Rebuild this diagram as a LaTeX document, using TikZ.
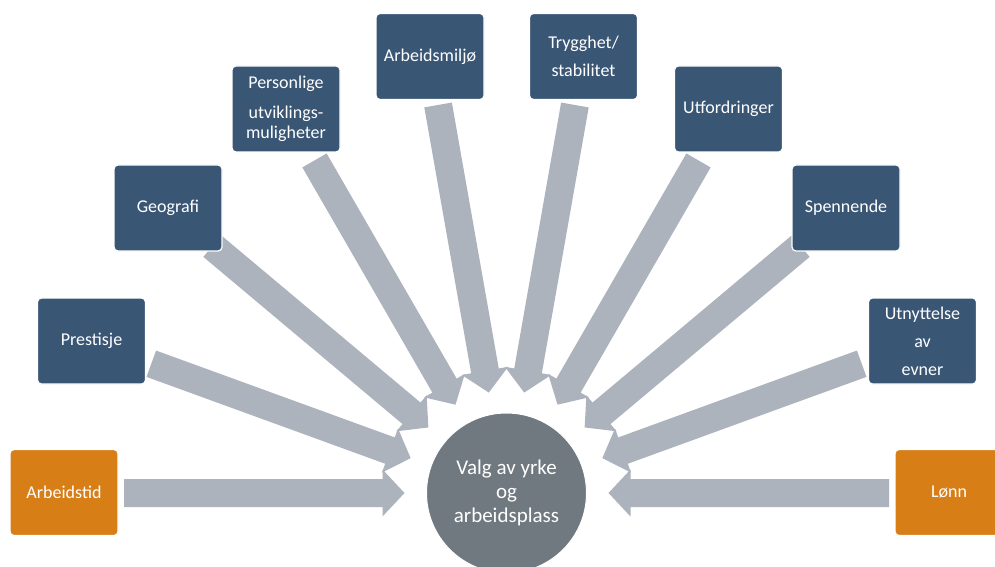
\documentclass[tikz,border=0pt]{standalone}
\usepackage{fontspec}
\setmainfont{Carlito}
\usetikzlibrary{calc}
\definecolor{boxblue}{HTML}{3A5675}
\definecolor{boxorange}{HTML}{D87E17}
\definecolor{arrowgrey}{HTML}{ADB3BD}
\definecolor{hubgrey}{HTML}{707880}
\tikzset{
  factor/.style={rounded corners=4pt, fill=boxblue, draw=white, line width=1.2pt,
    minimum width=108pt, minimum height=86pt, inner sep=2pt, text=white,
    align=center, font=\fontsize{18}{28}\selectfont},
  keyfactor/.style={factor, fill=boxorange},
  hub/.style={circle, fill=hubgrey, draw=white, line width=1pt, minimum size=160pt,
    inner sep=0pt, text=white, align=center, font=\fontsize{21}{24}\selectfont},
  blockarrow/.style={fill=arrowgrey}
}
% #1 = name of the tail coordinate; the arrow points from it to the hub (c)
\newcommand\convarrow[1]{%
  \coordinate (#1h) at ($(c)!124pt!(#1)$);
  \coordinate (#1p) at ($(c)!102pt!(#1)$);
  \fill[blockarrow]
    ($(#1)!14pt!90:(c)$) -- ($(#1h)!14pt!-90:(#1)$) -- ($(#1h)!23.5pt!-90:(#1)$) --
    (#1p) -- ($(#1h)!23.5pt!90:(#1)$) -- ($(#1h)!14pt!90:(#1)$) --
    ($(#1)!14pt!-90:(c)$) -- cycle;
}
\begin{document}
\begin{tikzpicture}[x=1pt,y=1pt]
\useasboundingbox (0,0) rectangle (995,566);
\clip (0,0) rectangle (995,566);
\fill[white] (0,0) rectangle (995,566);
\coordinate (c) at (506.5,73);
% tails of the arrows
\coordinate (t1)  at ($(c)+(180:382.5)$);
\coordinate (t2)  at ($(c)+(160:378)$);
\coordinate (t3)  at ($(c)+(140:384)$);
\coordinate (t4)  at ($(c)+(120:384)$);
\coordinate (t5)  at ($(c)+(100:394)$);
\coordinate (t6)  at ($(c)+(80:394)$);
\coordinate (t7)  at ($(c)+(60:384)$);
\coordinate (t8)  at ($(c)+(40:384)$);
\coordinate (t9)  at ($(c)+(20:378)$);
\coordinate (t10) at ($(c)+(0:382.5)$);
\convarrow{t1}
\convarrow{t2}
\convarrow{t3}
\convarrow{t4}
\convarrow{t5}
\convarrow{t6}
\convarrow{t7}
\convarrow{t8}
\convarrow{t9}
\convarrow{t10}
% hub
\node[hub] (hub) at (c) {Valg av yrke\\og\\arbeidsplass};
% factors
\node[keyfactor] (arbeidstid) at (64,73.5) {Arbeidstid};
\node[factor] (prestisje) at (91.5,225) {Prestisje};
\node[factor] (geografi) at (168,358) {Geografi};
\node[factor] (personlige) at (286,457) {Personlige\\[2pt]utviklings-\\[-8pt]muligheter};
\node[factor] (miljo) at (430,509.5) {Arbeidsmiljø};
\node[factor] (trygghet) at (583.5,509.5) {Trygghet/\\stabilitet};
\node[factor] (utfordringer) at (728.5,457) {Utfordringer};
\node[factor] (spennende) at (846,358) {Spennende};
\node[factor] (utnyttelse) at (922.5,225) {Utnyttelse\\av\\evner};
\node[keyfactor] (lonn) at (949,73.5) {Lønn};
\end{tikzpicture}
\end{document}
